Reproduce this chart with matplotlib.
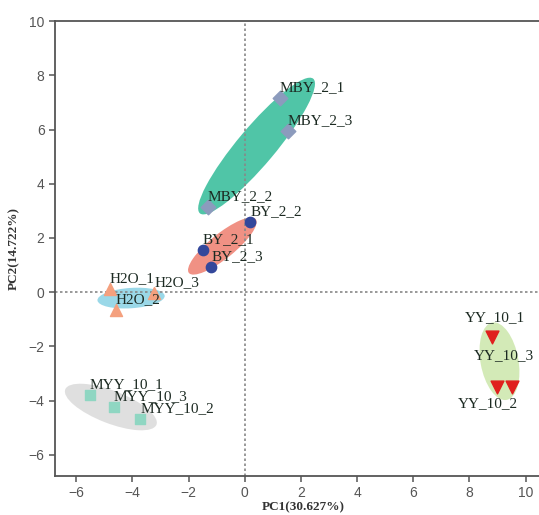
import matplotlib
matplotlib.use("Agg")
import matplotlib.pyplot as plt
from matplotlib.patches import Ellipse

# sample scores on PC1 / PC2
groups = ["MBY", "BY", "H2O", "MYY", "YY"]
mby_names = ["MBY_2_1", "MBY_2_3", "MBY_2_2"]
mby_x = [1.24, 1.53, -1.32]
mby_y = [7.16, 5.94, 3.14]
by_names = ["BY_2_2", "BY_2_1", "BY_2_3"]
by_x = [0.2, -1.5, -1.2]
by_y = [2.58, 1.55, 0.92]
h2o_names = ["H2O_1", "H2O_3", "H2O_2"]
h2o_x = [-4.81, -3.23, -4.59]
h2o_y = [0.11, -0.04, -0.66]
myy_names = ["MYY_10_1", "MYY_10_3", "MYY_10_2"]
myy_x = [-5.53, -4.67, -3.73]
myy_y = [-3.8, -4.24, -4.69]
yy_names = ["YY_10_1", "YY_10_2", "YY_10_3"]
yy_x = [8.81, 8.99, 9.53]
yy_y = [-1.66, -3.5, -3.5]

# confidence ellipses: centre x, centre y, width, height, angle
ell_cx = [0.42, -0.8, -4.05, -4.77, 9.07]
ell_cy = [5.39, 1.7, -0.22, -4.24, -2.55]
ell_w = [6.4, 3.1, 2.4, 3.5, 2.9]
ell_h = [1.35, 0.9, 0.75, 1.2, 1.35]
ell_ang = [51, 40, 4, -22, 100]
ell_col = ["#3dbf9e", "#ef8577", "#8fd4e6", "#dcdcdc", "#cfe8b0"]

fig = plt.figure(figsize=(5.39, 5.15), dpi=100)
ax = fig.add_axes([0.102, 0.076, 0.92, 0.883])

for i in range(len(groups)):
    e = Ellipse((ell_cx[i], ell_cy[i]), ell_w[i], ell_h[i], angle=ell_ang[i],
                facecolor=ell_col[i], edgecolor="none", alpha=0.9, zorder=1)
    ax.add_patch(e)

ax.axvline(0, color="#888888", ls=(0, (1.5, 1.5)), lw=1.2, zorder=2)
ax.axhline(0, color="#888888", ls=(0, (1.5, 1.5)), lw=1.2, zorder=2)

ax.scatter(mby_x, mby_y, marker="D", s=55, color="#8c9bbd", zorder=3)
ax.scatter(by_x, by_y, marker="o", s=55, color="#33479b", zorder=3)
ax.scatter(h2o_x, h2o_y, marker="^", s=75, color="#f4a07e", zorder=3)
ax.scatter(myy_x, myy_y, marker="s", s=50, color="#8fd6c2", zorder=3)
ax.scatter(yy_x, yy_y, marker="v", s=85, color="#e0201e", zorder=3)

lab_font = dict(family="Liberation Serif", fontsize=11, color="#1c2a22")

all_names = mby_names + by_names + h2o_names + myy_names
all_x = mby_x + by_x + h2o_x + myy_x
all_y = mby_y + by_y + h2o_y + myy_y
for n, x, y in zip(all_names, all_x, all_y):
    ax.annotate(n, (x, y), xytext=(0, 3), textcoords="offset points",
                ha="left", va="bottom", zorder=4, **lab_font)

# YY labels sit around the points
ax.annotate(yy_names[0], (yy_x[0], yy_y[0]), xytext=(2, 9), textcoords="offset points",
            ha="center", va="bottom", zorder=4, **lab_font)
ax.annotate(yy_names[1], (yy_x[1], yy_y[1]), xytext=(-7, -7), textcoords="offset points",
            ha="center", va="top", zorder=4, **lab_font)
ax.annotate(yy_names[2], (yy_x[2], yy_y[2]), xytext=(-6, 18), textcoords="offset points",
            ha="center", va="bottom", zorder=4, **lab_font)

ax.set_xlim(-6.76, 10.9)
ax.set_ylim(-6.78, 10)
ax.set_xticks(range(-6, 11, 2))
ax.set_yticks(range(-6, 11, 2))

for s in ["left", "bottom", "top"]:
    ax.spines[s].set_color("#555555")
    ax.spines[s].set_linewidth(1.3)
ax.spines["right"].set_visible(False)
ax.tick_params(direction="out", length=4, width=1.1, color="#555555",
               labelcolor="#555555", labelsize=10)
for t in ax.get_xticklabels() + ax.get_yticklabels():
    t.set_family("Liberation Sans")

ax.set_xlabel("PC1(30.627%)", family="Liberation Serif", fontweight="bold",
              fontsize=9.5, color="#333333", labelpad=1)
ax.set_ylabel("PC2(14.722%)", family="Liberation Serif", fontweight="bold",
              fontsize=9.5, color="#333333", labelpad=6)

fig.savefig("out.png", dpi=100)
